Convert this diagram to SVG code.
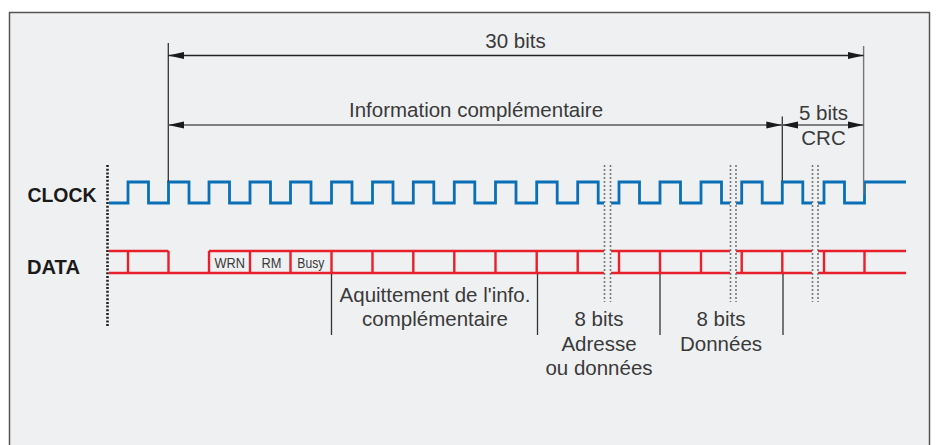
<svg xmlns="http://www.w3.org/2000/svg" width="937" height="445" viewBox="0 0 937 445">
<style>
.lbl{font-family:"Liberation Sans",Arial,sans-serif;font-size:20.5px;fill:#3a3a3a;text-anchor:middle}
.big{font-family:"Liberation Sans",Arial,sans-serif;font-size:20px;font-weight:bold;fill:#1a1a1a}
.cell{font-family:"Liberation Sans",Arial,sans-serif;font-size:15.5px;fill:#3a3a3a;text-anchor:middle}
.clk{fill:none;stroke:#0a6fb6;stroke-width:2.8;stroke-linejoin:miter}
.dat{fill:none;stroke:#e8202c;stroke-width:2.4}
.dim{stroke:#222;stroke-width:1.3;fill:none}
.dim2{stroke:#5a5a5a;stroke-width:1.7;fill:none}
.ext{stroke:#333;stroke-width:1.3}
.gap{stroke:#777;stroke-width:1.6;stroke-dasharray:2 2}
.tick{stroke:#333;stroke-width:1.3}
</style>
<defs>
<marker id="ah" viewBox="-16 -4 16 8" refX="0" refY="0" markerWidth="16" markerHeight="8" markerUnits="userSpaceOnUse" orient="auto-start-reverse">
<path d="M0,0 L-16,-3.6 L-16,3.6 Z" fill="#1a1a1a"/>
</marker>
</defs>
<rect x="0" y="0" width="937" height="445" fill="#ffffff"/>
<rect x="9.5" y="12.5" width="920" height="460" fill="#eff0f2" stroke="#555" stroke-width="1.5"/>

<g id="labels">
<text class="big" x="27.5" y="201.5" textLength="69" lengthAdjust="spacingAndGlyphs">CLOCK</text>
<text class="big" x="27" y="273.5" textLength="53" lengthAdjust="spacingAndGlyphs">DATA</text>
</g>

<g id="left-marker">
<line x1="107.5" y1="165" x2="107.5" y2="327" stroke="#222" stroke-width="2.6" stroke-dasharray="2 1.7"/>
</g>

<g id="clock">
<path class="clk" d="M109,203 H128 V182 H148.5 V203 H168.5 V182 H189 V203 H209 V182 H229.5 V203 H250 V182 H270.5 V203 H290.5 V182 H311 V203 H331.5 V182 H352 V203 H372.5 V182 H393 V203 H413.3 V182 H433.8 V203 H454.3 V182 H474.8 V203 H495.5 V182 H516 V203 H536.7 V182 H557.2 V203 H577.7 V182 H598.2 V203 H604"/>
<path class="clk" d="M611,203 H619 V182 H639.5 V203 H660 V182 H680.5 V203 H701 V182 H721.5 V203 H730"/>
<path class="clk" d="M736,203 H741.7 V182 H762.2 V203 H782.3 V182 H802.8 V203 H812"/>
<path class="clk" d="M818,203 H824 V182 H844.5 V203 H864.5 V182 H906"/>
</g>

<g id="data">
<path class="dat" d="M109,251 H168.5 M209,251 H604 M109,273 H604 M128,251 V273 M168.5,251 V273 M209,251 V273 M250,251 V273 M290.5,251 V273 M331.5,251 V273 M372.5,251 V273 M413.3,251 V273 M454.3,251 V273 M495.5,251 V273 M536.7,251 V273 M577.7,251 V273"/>
<path class="dat" d="M611,251 H730 M611,273 H730 M619,251 V273 M660,251 V273 M701,251 V273"/>
<path class="dat" d="M736,251 H812 M736,273 H812 M741.7,251 V273 M782.3,251 V273"/>
<path class="dat" d="M818,251 H906 M818,273 H906 M824,251 V273 M864.5,251 V273"/>
<text class="cell" x="229.7" y="268" textLength="30.5" lengthAdjust="spacingAndGlyphs">WRN</text>
<text class="cell" x="271.5" y="268" textLength="20" lengthAdjust="spacingAndGlyphs">RM</text>
<text class="cell" x="310.8" y="268" textLength="27" lengthAdjust="spacingAndGlyphs">Busy</text>
</g>

<g id="gaps">
<line class="gap" x1="604.5" y1="165" x2="604.5" y2="302"/>
<line class="gap" x1="610.5" y1="165" x2="610.5" y2="302"/>
<line class="gap" x1="730.5" y1="165" x2="730.5" y2="302"/>
<line class="gap" x1="736" y1="165" x2="736" y2="302"/>
<line class="gap" x1="812.5" y1="165" x2="812.5" y2="302"/>
<line class="gap" x1="818" y1="165" x2="818" y2="302"/>
</g>

<g id="connectors">
<line class="ext" x1="168.3" y1="43" x2="168.3" y2="182"/>
<line x1="863.6" y1="46" x2="863.6" y2="194" stroke="#777" stroke-width="1.4"/>
<line class="ext" x1="782.3" y1="116.5" x2="782.3" y2="181"/>
<line class="dim" x1="168.3" y1="55.5" x2="863.6" y2="55.5" marker-start="url(#ah)" marker-end="url(#ah)"/>
<line class="dim2" x1="168.3" y1="125" x2="782.3" y2="125" marker-start="url(#ah)" marker-end="url(#ah)"/>
<line class="dim2" x1="782.3" y1="125" x2="863.6" y2="125" marker-start="url(#ah)" marker-end="url(#ah)"/>
<line class="tick" x1="331.5" y1="274" x2="331.5" y2="335"/>
<line class="tick" x1="537.5" y1="274" x2="537.5" y2="335"/>
<line class="tick" x1="660" y1="274" x2="660" y2="335"/>
<line class="tick" x1="783" y1="274" x2="783" y2="335"/>
</g>

<g id="dimension-labels">
<text class="lbl" x="515.5" y="47.5">30 bits</text>
<text class="lbl" x="476" y="116.5">Information complémentaire</text>
<text class="lbl" x="823.5" y="120">5 bits</text>
<text class="lbl" x="823.5" y="145">CRC</text>
</g>

<g id="field-labels">
<text class="lbl" x="435" y="301.5">Aquittement de l'info.</text>
<text class="lbl" x="435" y="325.5">complémentaire</text>
<text class="lbl" x="599" y="325.5">8 bits</text>
<text class="lbl" x="599" y="350.5">Adresse</text>
<text class="lbl" x="599" y="375">ou données</text>
<text class="lbl" x="721" y="325.5">8 bits</text>
<text class="lbl" x="721" y="350.5">Données</text>
</g>
</svg>
